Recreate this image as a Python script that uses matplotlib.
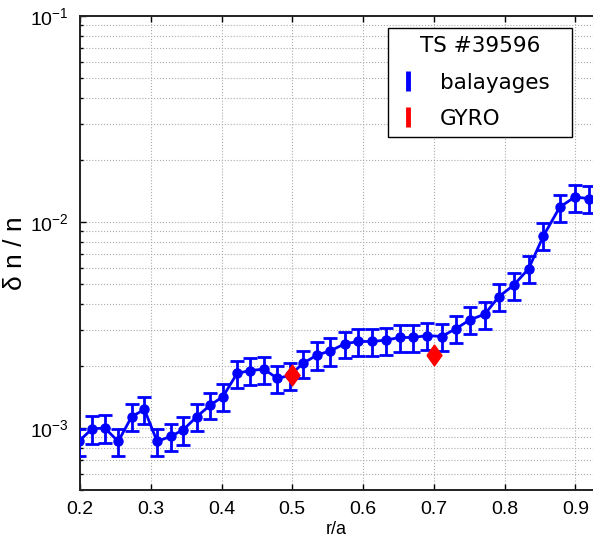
import matplotlib
matplotlib.use("Agg")
import matplotlib.pyplot as plt
from matplotlib.lines import Line2D
from matplotlib.ticker import LogLocator, NullFormatter

plt.rcParams['font.family'] = ['Liberation Sans', 'DejaVu Sans']

# ==========================
# Data
# ==========================
r_a = [0.198, 0.217, 0.235, 0.254, 0.273, 0.291, 0.309, 0.328, 0.346, 0.365,
       0.384, 0.402, 0.422, 0.440, 0.460, 0.479, 0.497, 0.515, 0.535, 0.554,
       0.574, 0.593, 0.613, 0.632, 0.652, 0.671, 0.691, 0.711, 0.731, 0.751,
       0.772, 0.792, 0.813, 0.834, 0.855, 0.878, 0.899, 0.920]

# delta n / n in units of 1e-3
dn_n = [0.86, 0.99, 1.00, 0.86, 1.135, 1.23, 0.86, 0.91, 0.98, 1.135,
        1.29, 1.42, 1.84, 1.90, 1.93, 1.74, 1.80, 2.06, 2.26, 2.37,
        2.56, 2.63, 2.63, 2.67, 2.75, 2.75, 2.81, 2.78, 3.03, 3.35,
        3.57, 4.34, 4.94, 5.93, 8.57, 11.8, 13.2, 13.0]

dn_err = [0.13, 0.15, 0.15, 0.13, 0.17, 0.18, 0.13, 0.14, 0.15, 0.17,
          0.19, 0.21, 0.28, 0.29, 0.29, 0.26, 0.27, 0.31, 0.34, 0.36,
          0.38, 0.39, 0.39, 0.40, 0.41, 0.41, 0.42, 0.42, 0.45, 0.50,
          0.54, 0.65, 0.74, 0.89, 1.29, 1.77, 1.98, 1.95]

gyro_r = [0.5, 0.7]
gyro_dn = [1.80, 2.26]

scale = 1e-3
y = [v * scale for v in dn_n]
yerr = [v * scale for v in dn_err]
gy = [v * scale for v in gyro_dn]

# ==========================
# Figure
# ==========================
fig = plt.figure(figsize=(5.93, 5.40), dpi=100)
ax = fig.add_axes([0.1349, 0.0926, 0.8651, 0.8778])

ax.errorbar(r_a, y, yerr=yerr, color='blue', linewidth=2.0,
            marker='o', markersize=6.5, elinewidth=2.0, capsize=5,
            capthick=2.0, zorder=3)

diamond = [(-0.72, 0), (0, 1), (0.72, 0), (0, -1), (-0.72, 0)]
ax.plot(gyro_r, gy, linestyle='none', marker=diamond, markersize=15,
        color='red', markeredgecolor='red', zorder=4)

ax.set_yscale('log')
ax.set_xlim(0.2, 0.925)
ax.set_ylim(5e-4, 1e-1)
ax.set_xticks([0.2, 0.3, 0.4, 0.5, 0.6, 0.7, 0.8, 0.9])
ax.set_xticklabels(['0.2', '0.3', '0.4', '0.5', '0.6', '0.7', '0.8', '0.9'])
ax.yaxis.set_major_locator(LogLocator(base=10))
ax.yaxis.set_minor_locator(LogLocator(base=10, subs=range(2, 10)))
ax.yaxis.set_minor_formatter(NullFormatter())

ax.grid(True, which='major', color='#aaaaaa', linestyle=':', linewidth=0.8)
ax.grid(True, which='minor', axis='y', color='#aaaaaa', linestyle=':',
        linewidth=0.8)

ax.tick_params(which='both', direction='in', top=True, right=False,
               labelsize=14, width=1.0, pad=8)
ax.tick_params(which='major', length=4)
ax.tick_params(which='minor', length=2.5)
for side in ['left', 'bottom', 'top']:
    ax.spines[side].set_linewidth(1.4)
    ax.spines[side].set_color('#222222')
ax.spines['right'].set_visible(False)

ax.set_xlabel('r/a', fontsize=13, labelpad=2)
ax.set_ylabel('δ n / n', fontsize=19, labelpad=2)

# ==========================
# Legend
# ==========================
handles = [
    Line2D([], [], linestyle='none', marker='|', color='blue',
           markersize=14, markeredgewidth=3.5),
    Line2D([], [], linestyle='none', marker='|', color='red',
           markersize=14, markeredgewidth=3.5),
]
leg = ax.legend(handles, ['balayages  ', 'GYRO'], title='TS #39596',
                loc='upper right', bbox_to_anchor=(0.959, 0.975),
                borderaxespad=0, fancybox=False, framealpha=1,
                edgecolor='black', handlelength=1.0, handletextpad=1.0,
                labelspacing=0.75, borderpad=0.4,
                prop={'family': 'DejaVu Sans', 'size': 15.5},
                title_fontproperties={'family': 'DejaVu Sans', 'size': 15.5})
leg.get_frame().set_linewidth(1.0)

plt.savefig('out.png', dpi=100)
